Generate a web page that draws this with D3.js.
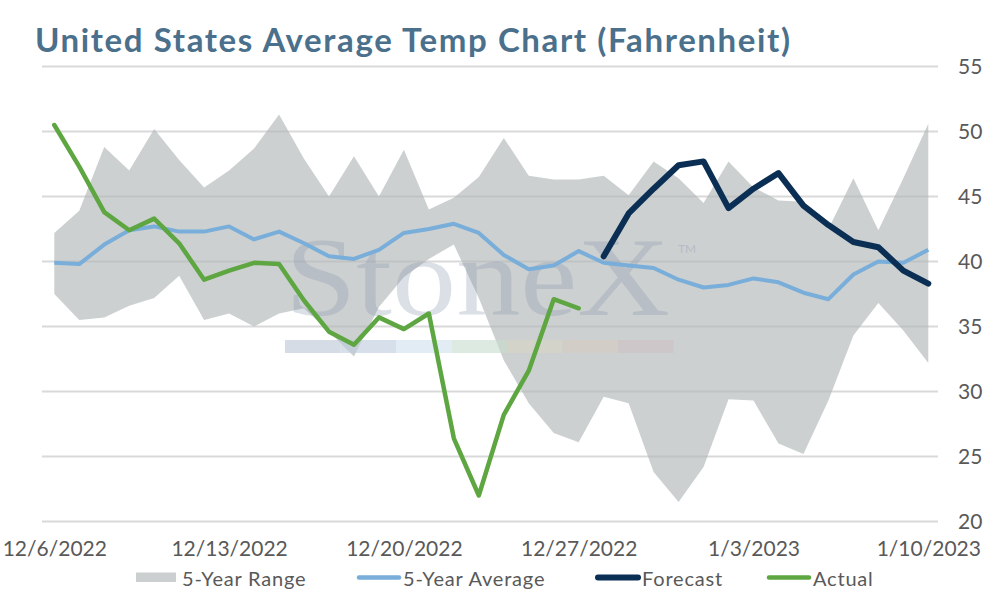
<!DOCTYPE html>
<html>
<head>
<meta charset="utf-8">
<script src="https://cdn.jsdelivr.net/npm/d3@7"></script>
<style>
  body { margin: 0; background: #fff; }
  svg text { font-family: Lato, "Open Sans", sans-serif; }
</style>
</head>
<body>
<svg id="chart" width="994" height="600"></svg>
<script>
// daily values, 12/6/2022 .. 1/10/2023
var startDate = new Date(2022, 11, 6)
var numDays = 36

var rangeHigh = [42.2, 43.9, 48.8, 47.0, 50.2, 47.8, 45.7, 47.0, 48.7, 51.3, 47.9, 45.0,
  48.1, 45.0, 48.6, 44.0, 44.9, 46.5, 49.5, 46.6, 46.3, 46.3, 46.6, 45.1,
  47.7, 46.4, 44.5, 47.7, 45.7, 44.7, 44.6, 42.5, 46.4, 42.4, 46.4, 50.6]
var rangeLow = [37.5, 35.5, 35.7, 36.6, 37.2, 38.9, 35.5, 36.0, 35.0, 36.0, 36.4, 34.6,
  32.7, 36.5, 38.8, 40.2, 41.3, 37.2, 32.4, 29.1, 26.8, 26.1, 29.6, 29.1,
  23.8, 21.5, 24.2, 29.4, 29.3, 26.0, 25.2, 29.3, 34.3, 36.8, 34.7, 32.2]
var avg5yr = [39.9, 39.8, 41.3, 42.4, 42.7, 42.3, 42.3, 42.7, 41.7, 42.3, 41.4, 40.4,
  40.2, 40.9, 42.2, 42.5, 42.9, 42.2, 40.5, 39.4, 39.7, 40.8, 39.9, 39.7,
  39.5, 38.6, 38.0, 38.2, 38.7, 38.4, 37.6, 37.1, 39.0, 40.0, 39.9, 40.9]
// actual runs 12/6 .. 12/27
var actual = [50.5, 47.3, 43.8, 42.4, 43.3, 41.4, 38.6, 39.3, 39.9, 39.8, 37.0, 34.6,
  33.6, 35.7, 34.8, 36.0, 26.4, 22.0, 28.2, 31.6, 37.1, 36.4]
// forecast runs 12/28 .. 1/10
var forecastStart = 22
var forecast = [40.4, 43.7, 45.6, 47.4, 47.7, 44.1, 45.6, 46.8, 44.3, 42.8, 41.5, 41.1, 39.3, 38.3]

var yTicks = [20, 25, 30, 35, 40, 45, 50, 55]
var legendLabels = ["5-Year Range", "5-Year Average", "Forecast", "Actual"]

var dates = d3.timeDay.range(startDate, d3.timeDay.offset(startDate, numDays))
// one label a week
var xTicks = dates.filter(function (d, i) { return i % 7 === 0 })

var colors = {
  range: "#b2b7b9",
  avg: "#78aed9",
  forecast: "#0b2f54",
  actual: "#5ea641",
  grid: "#d9d9d9",
  text: "#595959",
  title: "#4b708c"
}

var svg = d3.select("#chart")

var x = d3.scaleTime()
  .domain([dates[0], dates[dates.length - 1]])
  .range([54.3, 928.3])

var y = d3.scaleLinear()
  .domain([20, 55])
  .range([521.5, 66.5])

var plotLeft = 42, plotRight = 938

// title
svg.append("text")
  .attr("x", 35)
  .attr("y", 52)
  .attr("textLength", 755)
  .attr("lengthAdjust", "spacing")
  .style("font-size", "33px")
  .style("font-weight", "bold")
  .style("fill", colors.title)
  .text("United States Average Temp Chart (Fahrenheit)")

// gridlines
svg.append("g")
  .selectAll("line")
  .data(yTicks)
  .enter()
  .append("line")
  .attr("x1", plotLeft)
  .attr("x2", plotRight)
  .attr("y1", function (d) { return y(d) })
  .attr("y2", function (d) { return y(d) })
  .style("stroke", colors.grid)
  .style("stroke-width", 1.8)

// 5 year range
var rangeData = dates.map(function (d, i) {
  return { date: d, lo: rangeLow[i], hi: rangeHigh[i] }
})
var area = d3.area()
  .x(function (d) { return x(d.date) })
  .y0(function (d) { return y(d.lo) })
  .y1(function (d) { return y(d.hi) })

svg.append("path")
  .datum(rangeData)
  .attr("d", area)
  .style("fill", colors.range)
  .style("fill-opacity", 0.66)

// watermark
var wm = svg.append("g").attr("class", "watermark")
wm.append("text")
  .attr("x", 285)
  .attr("y", 315)
  .attr("textLength", 385)
  .attr("lengthAdjust", "spacingAndGlyphs")
  .style("font-family", "'Liberation Serif', 'DejaVu Serif', serif")
  .style("font-size", "112px")
  .style("fill", "#8796ab")
  .style("fill-opacity", 0.3)
  .text("StoneX")
wm.append("text")
  .attr("x", 678)
  .attr("y", 253)
  .style("font-size", "12px")
  .style("fill", "#8796ab")
  .style("fill-opacity", 0.35)
  .text("TM")
var stripe = ["#b9c5d4", "#bccbdc", "#cfe0ee", "#c6dccd", "#d9d6c3", "#d6cdbf", "#cfc1c3"]
wm.selectAll("rect")
  .data(stripe)
  .enter()
  .append("rect")
  .attr("x", function (d, i) { return 285 + i * 55.5 })
  .attr("y", 340)
  .attr("width", 55.5)
  .attr("height", 13)
  .style("fill", function (d) { return d })
  .style("fill-opacity", 0.6)

// lines
var line = d3.line()
  .x(function (d) { return x(d.date) })
  .y(function (d) { return y(d.v) })

var avgData = dates.map(function (d, i) { return { date: d, v: avg5yr[i] } })
var actualData = actual.map(function (v, i) { return { date: dates[i], v: v } })
var forecastData = forecast.map(function (v, i) { return { date: dates[forecastStart + i], v: v } })

svg.append("path")
  .datum(avgData)
  .attr("d", line)
  .style("fill", "none")
  .style("stroke", colors.avg)
  .style("stroke-width", 4)
  .style("stroke-linejoin", "round")

svg.append("path")
  .datum(forecastData)
  .attr("d", line)
  .style("fill", "none")
  .style("stroke", colors.forecast)
  .style("stroke-width", 6)
  .style("stroke-linejoin", "round")
  .style("stroke-linecap", "round")

svg.append("path")
  .datum(actualData)
  .attr("d", line)
  .style("fill", "none")
  .style("stroke", colors.actual)
  .style("stroke-width", 4.5)
  .style("stroke-linejoin", "round")
  .style("stroke-linecap", "round")

// axes
var fmt = function (d) {
  return (d.getMonth() + 1) + "/" + d.getDate() + "/" + d.getFullYear()
}
var xAxis = d3.axisBottom(x)
  .tickValues(xTicks)
  .tickFormat(fmt)
  .tickSize(0)
  .tickPadding(20)

var gx = svg.append("g")
  .attr("transform", "translate(0," + y(20) + ")")
  .call(xAxis)
gx.select(".domain").remove()
gx.selectAll("text")
  .style("font-size", "21px")
  .style("font-family", "Lato, sans-serif")
  .style("fill", colors.text)

var yAxis = d3.axisRight(y)
  .tickValues(yTicks)
  .tickSize(0)
  .tickPadding(20)

var gy = svg.append("g")
  .attr("transform", "translate(" + plotRight + ",0)")
  .call(yAxis)
gy.select(".domain").remove()
gy.selectAll("text")
  .style("font-size", "21px")
  .style("font-family", "Lato, sans-serif")
  .style("fill", colors.text)

// legend
var legendX = [136, 357, 596, 767]
var legend = svg.append("g").attr("class", "legend")
legendLabels.forEach(function (label, i) {
  var g = legend.append("g").attr("transform", "translate(" + legendX[i] + ",0)")
  if (i === 0) {
    g.append("rect")
      .attr("x", 0).attr("y", 572.5)
      .attr("width", 40).attr("height", 9.5)
      .style("fill", "#cbcfd0")
  } else {
    var c = [null, colors.avg, colors.forecast, colors.actual][i]
    g.append("line")
      .attr("x1", 2).attr("x2", 42)
      .attr("y1", 577.5).attr("y2", 577.5)
      .style("stroke", c)
      .style("stroke-width", i === 2 ? 6 : 4.5)
      .style("stroke-linecap", "round")
  }
  g.append("text")
    .attr("x", 46)
    .attr("y", 586)
    .style("font-size", "20px")
    .style("letter-spacing", "0.8px")
    .style("fill", colors.text)
    .text(label)
})
</script>
</body>
</html>
